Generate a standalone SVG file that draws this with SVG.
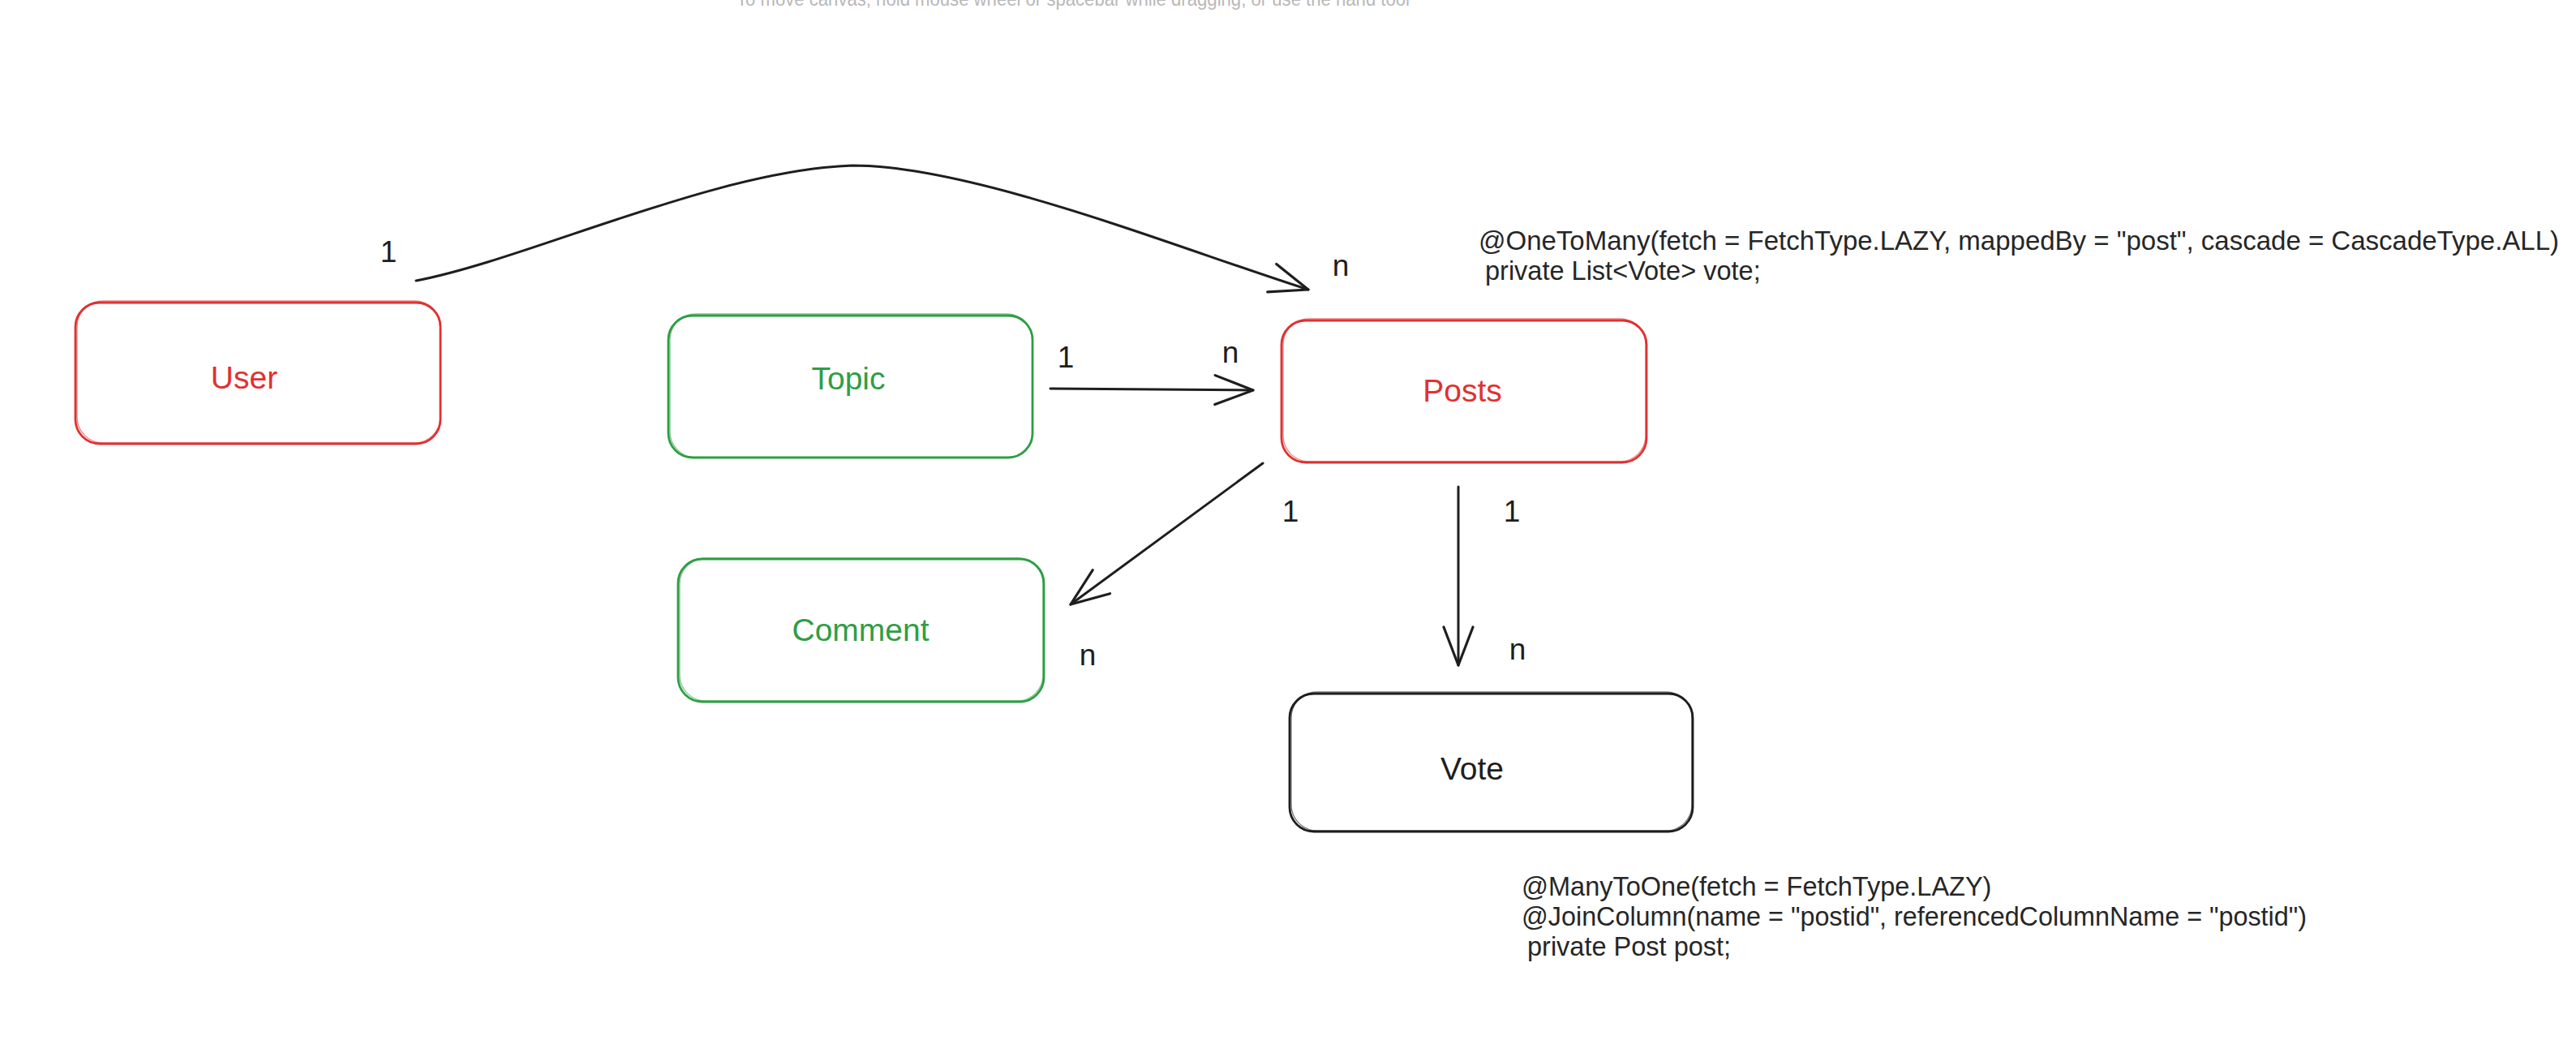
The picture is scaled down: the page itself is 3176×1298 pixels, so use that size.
<svg xmlns="http://www.w3.org/2000/svg" width="3176" height="1298" viewBox="0 0 3176 1298">
  <defs>
    <style>
      .box { fill: none; stroke-width: 2.8; }
      .box2 { fill: none; stroke-width: 1.3; opacity: 0.6; }
      .red { stroke: #e03131; }
      .green { stroke: #2f9e44; }
      .dark { stroke: #1e1e1e; }
      .lbl { font-family: "Liberation Sans", Arial, sans-serif; font-size: 39px; text-anchor: middle; }
      .tred { fill: #e03131; }
      .tgreen { fill: #2f9e44; }
      .tdark { fill: #1e1e1e; }
      .card { font-family: "Liberation Sans", Arial, sans-serif; font-size: 37px; fill: #1e1e1e; text-anchor: middle; }
      .code { font-family: "Liberation Sans", Arial, sans-serif; font-size: 32.5px; fill: #262626; }
      .hint { font-family: "Liberation Sans", Arial, sans-serif; font-size: 24px; fill: #b8b8b8; }
      .edge { fill: none; stroke: #1e1e1e; stroke-width: 3; stroke-linecap: round; marker-end: url(#open); }
    </style>
    <marker id="open" markerUnits="userSpaceOnUse" markerWidth="70" markerHeight="60" viewBox="-55 -30 70 60" refX="0" refY="0" orient="auto" overflow="visible">
      <path d="M-47,-18 L0,0 L-47,18" fill="none" stroke="#1e1e1e" stroke-width="3.2" stroke-linecap="round" stroke-linejoin="round"/>
    </marker>
  </defs>

  <rect width="3176" height="1298" fill="#ffffff"/>

  <text class="hint" x="908" y="7" textLength="830" lengthAdjust="spacingAndGlyphs">To move canvas, hold mouse wheel or spacebar while dragging, or use the hand tool</text>

  <g id="node-user">
    <rect class="box red" x="93" y="373" width="450" height="174" rx="30"/>
    <rect class="box2 red" x="95" y="371" width="448" height="175" rx="32"/>
    <text class="lbl tred" x="301" y="479">User</text>
  </g>

  <g id="node-topic">
    <rect class="box green" x="824" y="389" width="449" height="175" rx="30"/>
    <rect class="box2 green" x="826" y="387" width="447" height="177" rx="32"/>
    <text class="lbl tgreen" x="1046" y="480">Topic</text>
  </g>

  <g id="node-posts">
    <rect class="box red" x="1580" y="395" width="450" height="175" rx="30"/>
    <rect class="box2 red" x="1582" y="393" width="447" height="176" rx="32"/>
    <text class="lbl tred" x="1803" y="495">Posts</text>
  </g>

  <g id="node-comment">
    <rect class="box green" x="836" y="689" width="451" height="176" rx="30"/>
    <rect class="box2 green" x="838" y="688" width="448" height="176" rx="32"/>
    <text class="lbl tgreen" x="1061" y="790">Comment</text>
  </g>

  <g id="node-vote">
    <rect class="box dark" x="1590" y="855" width="497" height="170" rx="30"/>
    <rect class="box2 dark" x="1592" y="853" width="494" height="171" rx="32"/>
    <text class="lbl tdark" x="1815" y="961">Vote</text>
  </g>

  <g id="connectors">
    <path class="edge" d="M513,346 C650,320 880,210 1051,204 C1200,204 1450,305 1613,357"/>
    <path class="edge" d="M1295,479 L1545,481"/>
    <path class="edge" d="M1557,571 L1320,745"/>
    <path class="edge" d="M1798,600 L1798,820"/>
  </g>

  <g id="cardinalities">
    <text class="card" x="479" y="323">1</text>
    <text class="card" x="1653" y="340">n</text>
    <text class="card" x="1314" y="453">1</text>
    <text class="card" x="1517" y="447">n</text>
    <text class="card" x="1591" y="643">1</text>
    <text class="card" x="1864" y="643">1</text>
    <text class="card" x="1341" y="820">n</text>
    <text class="card" x="1871" y="813">n</text>
  </g>

  <g id="annotation-posts">
    <text class="code" x="1823" y="308" textLength="1332" lengthAdjust="spacingAndGlyphs">@OneToMany(fetch = FetchType.LAZY, mappedBy = "post", cascade = CascadeType.ALL)</text>
    <text class="code" x="1831" y="345">private List&lt;Vote&gt; vote;</text>
  </g>

  <g id="annotation-vote">
    <text class="code" x="1876" y="1104">@ManyToOne(fetch = FetchType.LAZY)</text>
    <text class="code" x="1876" y="1141" textLength="968" lengthAdjust="spacingAndGlyphs">@JoinColumn(name = "postid", referencedColumnName = "postid")</text>
    <text class="code" x="1883" y="1178">private Post post;</text>
  </g>
</svg>
